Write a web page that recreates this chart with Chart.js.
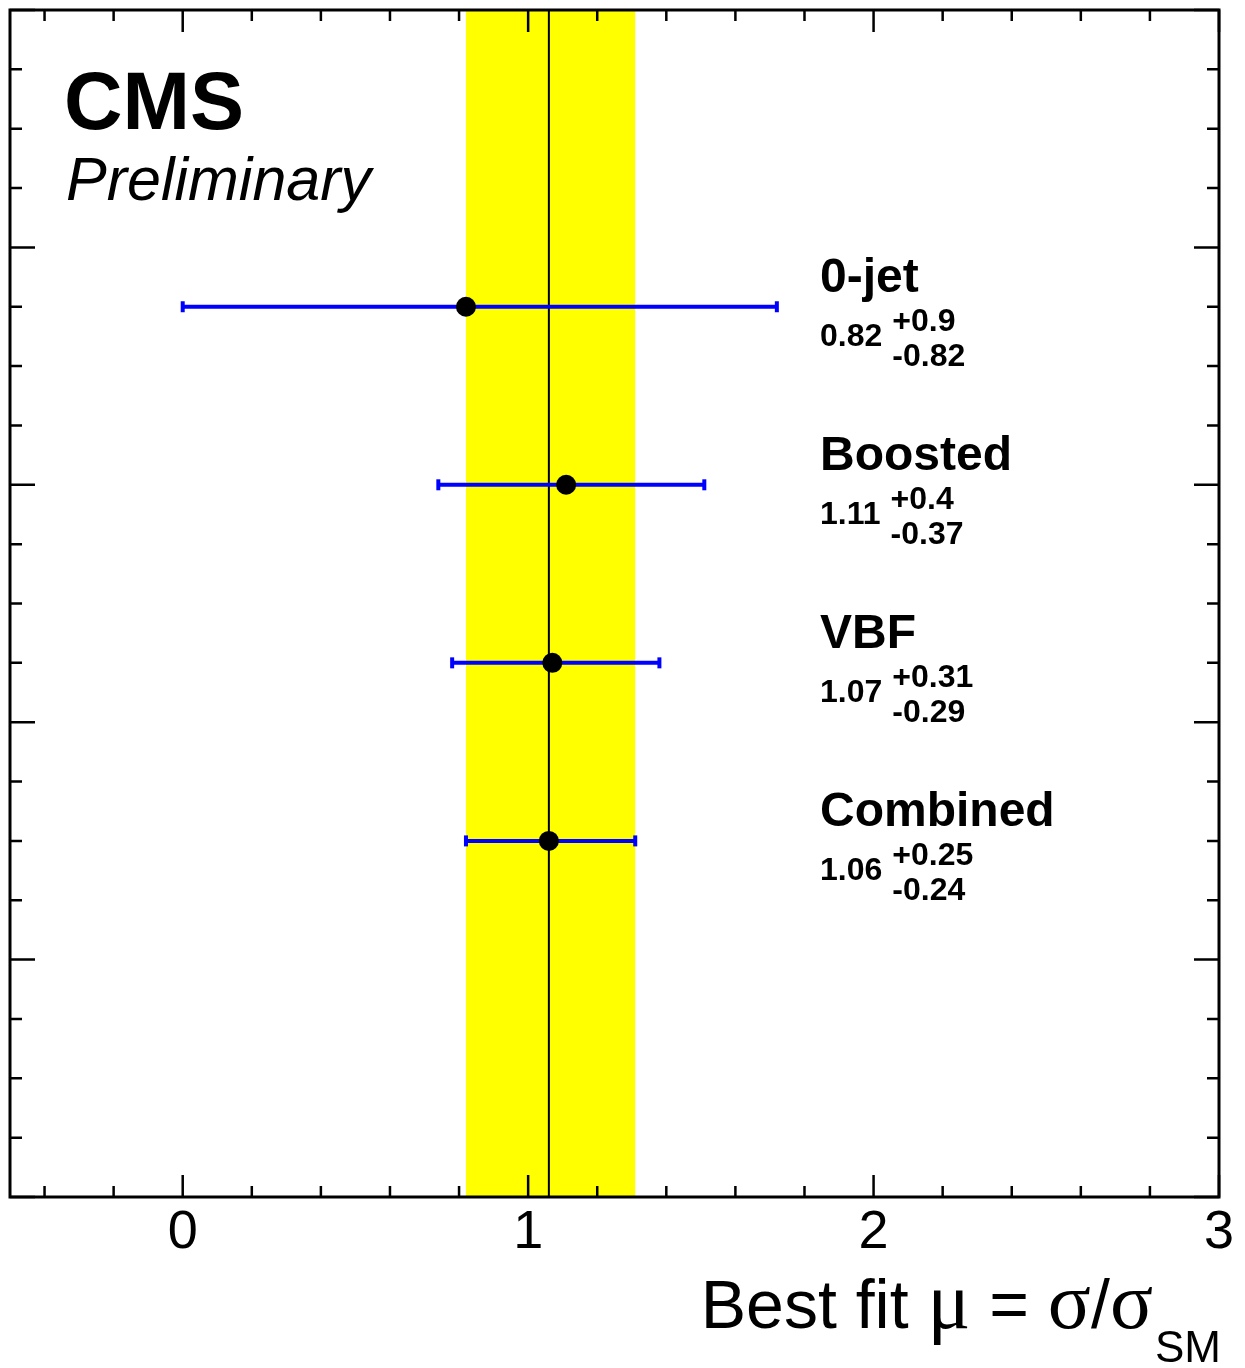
<!DOCTYPE html>
<html>
<head>
<meta charset="utf-8">
<script src="https://cdn.jsdelivr.net/npm/chart.js@4.4.1/dist/chart.umd.min.js"></script>
<style>
  html, body { margin: 0; padding: 0; background: #fff; }
  #mu-chart { display: block; }
</style>
</head>
<body>
<canvas id="mu-chart" width="1245" height="1368"></canvas>
<script>
// values
const categories = ["0-jet", "Boosted", "VBF", "Combined"];
const bestFit = [0.82, 1.11, 1.07, 1.06];
const errUp = [0.9, 0.4, 0.31, 0.25];
const errDown = [0.82, 0.37, 0.29, 0.24];
const valueText = ["0.82", "1.11", "1.07", "1.06"];
const upText = ["+0.9", "+0.4", "+0.31", "+0.25"];
const downText = ["-0.82", "-0.37", "-0.29", "-0.24"];
const rowY = [15, 12, 9, 6];
const xLabels = [0, 1, 2, 3];

const combined = categories.indexOf("Combined");
const bandLo = bestFit[combined] - errDown[combined];
const bandHi = bestFit[combined] + errUp[combined];

const sans = '"Liberation Sans", Arial, Helvetica, sans-serif';
const serif = '"Liberation Serif", "Times New Roman", serif';

let points = [];
let bars = [];
categories.forEach((c, i) => {
  points.push({ x: bestFit[i], y: rowY[i] });
  bars.push({ x: bestFit[i] - errDown[i], y: rowY[i] });
  bars.push({ x: bestFit[i] + errUp[i], y: rowY[i] });
  bars.push({ x: bestFit[i] + errUp[i], y: null }); // break the line
});

const rootStyle = {
  id: "rootStyle",
  beforeDatasetsDraw(chart) {
    const { ctx, chartArea: a, scales: { x } } = chart;
    ctx.save();
    const x0 = x.getPixelForValue(bandLo);
    const x1 = x.getPixelForValue(bandHi);
    ctx.fillStyle = "#ffff00";
    ctx.fillRect(x0, a.top, x1 - x0, a.bottom - a.top);
    const cx = x.getPixelForValue(bestFit[combined]);
    ctx.strokeStyle = "#000";
    ctx.lineWidth = 2;
    ctx.beginPath();
    ctx.moveTo(cx, a.top);
    ctx.lineTo(cx, a.bottom);
    ctx.stroke();
    ctx.restore();
  },
  afterDraw(chart) {
    const { ctx, chartArea: a, scales: { x, y } } = chart;
    ctx.save();

    // ticks, pointing inwards on all four sides
    ctx.strokeStyle = "#000";
    ctx.lineWidth = 2.5;
    ctx.beginPath();
    for (let k = Math.ceil(x.min / 0.2); k <= Math.floor(x.max / 0.2 + 1e-6); k++) {
      const px = x.getPixelForValue(k * 0.2);
      const len = k % 5 === 0 ? 22 : 11;
      ctx.moveTo(px, a.bottom);
      ctx.lineTo(px, a.bottom - len);
      ctx.moveTo(px, a.top);
      ctx.lineTo(px, a.top + len);
    }
    for (let v = y.min; v <= y.max; v++) {
      const py = y.getPixelForValue(v);
      const len = v % 4 === 0 ? 25 : 12;
      ctx.moveTo(a.left, py);
      ctx.lineTo(a.left + len, py);
      ctx.moveTo(a.right, py);
      ctx.lineTo(a.right - len, py);
    }
    ctx.stroke();

    ctx.lineWidth = 3;
    ctx.strokeRect(a.left, a.top, a.right - a.left, a.bottom - a.top);

    // CMS Preliminary
    ctx.fillStyle = "#000";
    ctx.textAlign = "left";
    ctx.textBaseline = "alphabetic";
    ctx.font = "bold 81px " + sans;
    ctx.fillText("CMS", a.left + 54, a.top + 119);
    ctx.font = "italic 61px " + sans;
    ctx.fillText("Preliminary", a.left + 56, a.top + 190);

    // category labels with value and asymmetric errors
    const lx = x.getPixelForValue(1.845);
    categories.forEach((c, i) => {
      const py = y.getPixelForValue(rowY[i]);
      ctx.font = "bold 48px " + sans;
      ctx.fillText(c, lx, py - 15);
      ctx.font = "bold 32px " + sans;
      ctx.fillText(valueText[i], lx, py + 39);
      const ex = lx + ctx.measureText(valueText[i]).width + 10;
      ctx.fillText(upText[i], ex, py + 24);
      ctx.fillText(downText[i], ex, py + 59);
    });

    // axis title: Best fit mu = sigma/sigma_SM
    const parts = [
      ["Best fit ", "68px " + sans],
      ["\u03bc", "80px " + serif],
      [" = ", "68px " + sans],
      ["\u03c3", "80px " + serif],
      ["/", "68px " + sans],
      ["\u03c3", "80px " + serif]
    ];
    let widths = parts.map(p => {
      ctx.font = p[1];
      return ctx.measureText(p[0]).width;
    });
    ctx.font = "44px " + sans;
    const subW = ctx.measureText("SM").width;
    let tx = a.right + 2 - subW - 2 - widths.reduce((s, w) => s + w, 0);
    const base = 1328;
    parts.forEach((p, i) => {
      ctx.font = p[1];
      ctx.fillText(p[0], tx, base);
      tx += widths[i];
    });
    ctx.font = "44px " + sans;
    ctx.fillText("SM", tx + 2, base + 34);

    ctx.restore();
  }
};

new Chart(document.getElementById("mu-chart"), {
  type: "scatter",
  data: {
    datasets: [
      {
        label: "best fit",
        data: points,
        pointRadius: 10,
        pointHoverRadius: 10,
        backgroundColor: "#000",
        borderWidth: 0,
      },
      {
        label: "68% CL",
        type: "line",
        data: bars,
        showLine: true,
        spanGaps: false,
        fill: false,
        borderColor: "#0000ff",
        borderWidth: 4,
        pointStyle: "line",
        pointRadius: 5.5,
        pointHoverRadius: 5.5,
        pointRotation: 90,
        pointBorderColor: "#0000ff",
        pointBorderWidth: 4,
      },
    ],
  },
  options: {
    responsive: false,
    animation: false,
    devicePixelRatio: 1,
    layout: { padding: { left: 9, right: 26, top: 7, bottom: 0 } },
    plugins: {
      legend: { display: false },
      tooltip: { enabled: false },
    },
    scales: {
      x: {
        type: "linear",
        min: -0.5,
        max: 3,
        grid: { display: false, drawTicks: false },
        border: { display: false },
        ticks: {
          stepSize: 1,
          includeBounds: false,
          padding: 4,
          color: "#000",
          font: { family: sans, size: 54 },
          maxRotation: 0,
          autoSkip: false,
          callback: (v) => (xLabels.includes(v) ? String(v) : ""),
        },
        afterFit: (s) => {
          s.height = 171;
        },
      },
      y: {
        type: "linear",
        min: 0,
        max: 20,
        display: false,
      },
    },
  },
  plugins: [rootStyle],
});
</script>
</body>
</html>
